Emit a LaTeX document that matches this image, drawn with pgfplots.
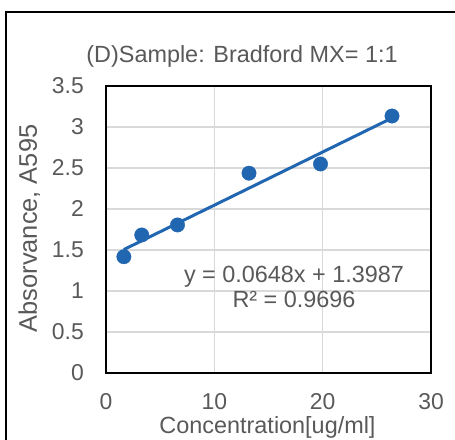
\documentclass[border=0pt]{standalone}
\usepackage{fontspec}
\setmainfont{Liberation Sans}
\usepackage{pgfplots}
\pgfplotsset{compat=1.18}
\definecolor{ptblue}{RGB}{33,102,176}
\definecolor{txtgray}{RGB}{89,89,89}
\definecolor{gridgray}{RGB}{217,217,217}
\begin{document}
\begin{tikzpicture}[x=1bp,y=1bp]
\path[use as bounding box] (-106,-67) rectangle (349,373);
\begin{axis}[
  at={(0,0)}, anchor=south west,
  scale only axis, width=325bp, height=287bp,
  xmin=0, xmax=30, ymin=0, ymax=3.5,
  xtick={0,10,20,30}, ytick={0,0.5,...,3.5},
  yticklabels={0,0.5,1,1.5,2,2.5,3,3.5},
  /pgf/number format/assume math mode=true,
  major tick length=0pt,
  grid=major,
  major grid style={gridgray, line width=1.5bp},
  axis line style={black, line width=2bp},
  tick label style={font=\fontsize{23}{27}\selectfont, text=txtgray, inner sep=0pt},
  yticklabel style={anchor=east, xshift=-22bp},
  xticklabel style={anchor=north, yshift=-20bp},
]
\addplot[ptblue, line width=3bp, no marks] coordinates {(1.65,1.5056) (26.4,3.1094)};
\addplot[only marks, mark=*, mark size=7.2bp, mark options={fill=ptblue, draw=ptblue}] coordinates {
  (1.65,1.418) (3.3,1.683) (6.6,1.805) (13.2,2.437) (19.8,2.549) (26.4,3.134)
};
\end{axis}
\draw[black, line width=2bp] (360,361) -- (-100,361) -- (-100,-80);
\node[anchor=base, text=txtgray, font=\fontsize{23.5}{28}\selectfont, inner sep=0pt] at (136,310) {(D)Sample: Bradford MX= 1:1};
\node[anchor=base, text=txtgray, font=\fontsize{23.5}{28}\selectfont, inner sep=0pt] at (188,90) {y = 0.0648x + 1.3987};
\node[anchor=base, text=txtgray, font=\fontsize{23.5}{28}\selectfont, inner sep=0pt] at (188,65) {R² = 0.9696};
\node[anchor=base, text=txtgray, font=\fontsize{23.5}{28}\selectfont, inner sep=0pt] at (161.5,-60) {Concentration[ug/ml]};
\node[anchor=base, rotate=90, text=txtgray, font=\fontsize{25.5}{30}\selectfont, inner sep=0pt] at (-69,144.5) {Absorvance, A595};
\end{tikzpicture}
\end{document}
